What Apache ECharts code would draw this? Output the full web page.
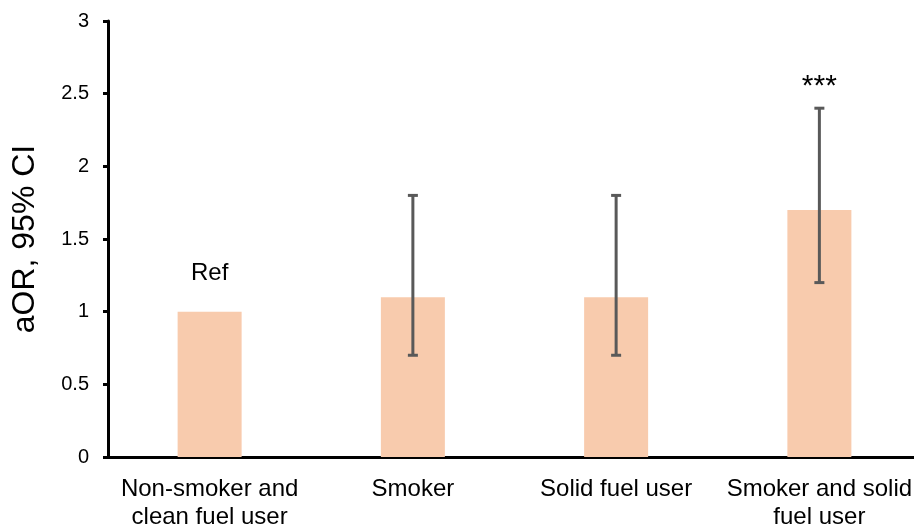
<!DOCTYPE html>
<html>
<head>
<meta charset="utf-8">
<script src="https://cdn.jsdelivr.net/npm/echarts@6/dist/echarts.min.js"></script>
<style>html,body{margin:0;padding:0;background:#fff}#c{width:914px;height:526px}</style>
</head>
<body>
<div id="c"></div>
<script>
const categories = ['Non-smoker and\nclean fuel user', 'Smoker', 'Solid fuel user', 'Smoker and solid\nfuel user'];
const aOR = [1.0, 1.1, 1.1, 1.7];
const ciLow = [null, 0.7, 0.7, 1.2];
const ciHigh = [null, 1.8, 1.8, 2.4];
const annotations = ['Ref', '', '', '***'];
const yTicks = [0, 0.5, 1, 1.5, 2, 2.5, 3];

const FONT = '"Liberation Sans", Arial, sans-serif';
const chart = echarts.init(document.getElementById('c'));

const errData = categories.map((c, i) => [i, ciLow[i], ciHigh[i], aOR[i]]);

chart.setOption({
  animation: false,
  grid: { left: 108, top: 21, width: 813, height: 436, containLabel: false, outerBoundsMode: 'none' },
  xAxis: {
    type: 'category',
    data: categories,
    axisLine: { lineStyle: { color: '#000', width: 3 } },
    axisTick: { show: false },
    axisLabel: { color: '#000', fontFamily: FONT, fontSize: 24, lineHeight: 28, margin: 18, interval: 0 }
  },
  yAxis: {
    type: 'value',
    min: 0, max: 3, interval: 0.5,
    name: 'aOR, 95% CI',
    nameLocation: 'middle',
    nameGap: 67,
    nameTextStyle: { color: '#000', fontFamily: FONT, fontSize: 32 },
    splitLine: { show: false },
    axisLine: { show: true, lineStyle: { color: '#000', width: 3 } },
    axisTick: { show: true, length: 5, lineStyle: { color: '#000', width: 3 } },
    axisLabel: { color: '#000', fontFamily: FONT, fontSize: 20, margin: 19,
      formatter: v => yTicks.includes(v) ? String(v) : '' }
  },
  series: [
    {
      type: 'bar',
      data: aOR,
      barWidth: 64,
      itemStyle: { color: '#F8CBAD' }
    },
    {
      type: 'custom',
      data: errData,
      z: 10,
      renderItem: function (params, api) {
        const i = api.value(0);
        const lo = ciLow[i];
        const hi = ciHigh[i];
        const val = api.value(3);
        const ann = annotations[i];
        const children = [];
        const style = { stroke: '#595959', lineWidth: 3 };
        const cap = 5;
        if (lo != null && hi != null) {
          const pLo = api.coord([i, lo]);
          const pHi = api.coord([i, hi]);
          children.push({ type: 'line', shape: { x1: pLo[0], y1: pLo[1], x2: pHi[0], y2: pHi[1] }, style });
          children.push({ type: 'line', shape: { x1: pLo[0] - cap, y1: pLo[1], x2: pLo[0] + cap, y2: pLo[1] }, style });
          children.push({ type: 'line', shape: { x1: pHi[0] - cap, y1: pHi[1], x2: pHi[0] + cap, y2: pHi[1] }, style });
          if (ann) {
            children.push({ type: 'text', style: { x: pHi[0], y: pHi[1] - 21, text: ann, fill: '#000',
              fontSize: 30, fontFamily: FONT, align: 'center', verticalAlign: 'middle' } });
          }
        } else if (ann) {
          const p = api.coord([i, val]);
          children.push({ type: 'text', style: { x: p[0], y: p[1] - 38, text: ann, fill: '#000',
            fontSize: 24, fontFamily: FONT, align: 'center', verticalAlign: 'middle' } });
        }
        return { type: 'group', children };
      }
    }
  ]
});
</script>
</body>
</html>
